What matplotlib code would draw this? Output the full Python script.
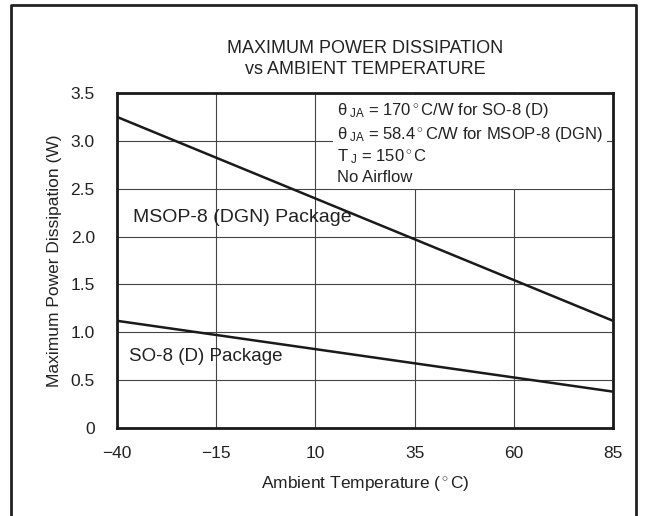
import matplotlib
matplotlib.use('Agg')
import matplotlib.pyplot as plt

plt.rcParams['font.family'] = ['Liberation Sans', 'DejaVu Sans']
plt.rcParams['mathtext.fontset'] = 'custom'
plt.rcParams['mathtext.rm'] = 'Liberation Sans'
plt.rcParams['mathtext.it'] = 'Liberation Sans'

# ambient temperature (C) and power dissipation (W)
temp = [-40, 85]
msop_power = [3.25, 1.12]
so8_power = [1.12, 0.38]

xticks = [-40, -15, 10, 35, 60, 85]
yticks = [0, 0.5, 1.0, 1.5, 2.0, 2.5, 3.0, 3.5]
ylabels = ['0', '0.5', '1.0', '1.5', '2.0', '2.5', '3.0', '3.5']

fig = plt.figure(figsize=(6.47, 5.16), dpi=100)
ax = fig.add_axes([117/647, 1 - 428/516, (613-117)/647, (428-93)/516])

# outer frame (open at the bottom)
fig.add_artist(plt.Line2D([11/647, 11/647, 636/647, 636/647], [0, 1 - 5/516, 1 - 5/516, 0],
                          transform=fig.transFigure, color='#222222', lw=2))

ax.plot(temp, msop_power, color='#1a1a1a', lw=1.8, zorder=3)
ax.plot(temp, so8_power, color='#1a1a1a', lw=1.8, zorder=3)

ax.set_xlim(-40, 85)
ax.set_ylim(0, 3.5)
ax.set_xticks(xticks)
ax.set_xticklabels(['\u2212' + str(-t) if t < 0 else str(t) for t in xticks])
ax.set_yticks(yticks)
ax.set_yticklabels(ylabels)
ax.tick_params(length=0, labelsize=12.5, colors='#222222')
ax.tick_params(axis='x', pad=13)
ax.tick_params(axis='y', pad=16)
ax.grid(True, color='#444444', lw=0.8)
ax.set_axisbelow(True)
for s in ax.spines.values():
    s.set_linewidth(2)
    s.set_color('#1a1a1a')

ax.set_xlabel('Ambient Temperature ($^\\circ$C)', fontsize=12.5, color='#222222', labelpad=9)
ax.set_ylabel('Maximum Power Dissipation (W)', fontsize=12.5, color='#222222', labelpad=6)

ax.set_title('MAXIMUM POWER DISSIPATION\nvs AMBIENT TEMPERATURE', fontsize=13,
             color='#222222', pad=14, linespacing=1.25)

ax.text(-36, 2.2, 'MSOP-8 (DGN) Package', fontsize=14, color='#222222', va='center')
ax.text(-37, 0.75, 'SO-8 (D) Package', fontsize=13.5, color='#222222', va='center')

info = ('$\\theta_{\\ JA}$ = 170$^\\circ$C/W for SO-8 (D)\n'
        '$\\theta_{\\ JA}$ = 58.4$^\\circ$C/W for MSOP-8 (DGN)\n'
        '$T_{\\ J}$ = 150$^\\circ$C\n'
        'No Airflow')
ax.text(0.443, 0.975, info, transform=ax.transAxes, fontsize=12, color='#222222',
        va='top', ha='left', linespacing=1.3,
        bbox=dict(facecolor='white', edgecolor='none', pad=3))

fig.savefig('out.png', dpi=100)
